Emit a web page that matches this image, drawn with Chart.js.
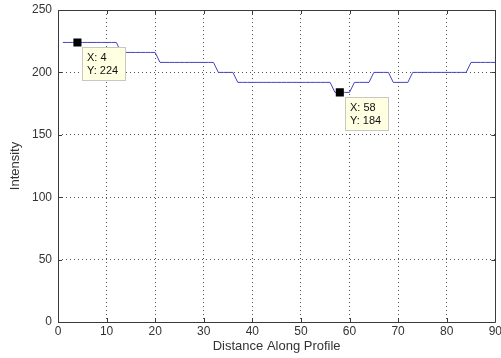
<!doctype html>
<html>
<head>
	<title>Intensity profile</title>
	<script src="https://cdn.jsdelivr.net/npm/chart.js@4/dist/chart.umd.min.js"></script>
	<style>
		html, body { margin: 0; padding: 0; background: #fff; }
		#holder { width: 501px; height: 358px; }
	</style>
</head>
<body>
	<div id="holder">
		<canvas id="chart-area" width="501" height="358"></canvas>
	</div>

	<script>
		// profile samples
		const distance = [
			1, 2, 3, 4, 5, 6, 7, 8, 9, 10, 11, 12, 13, 14, 15, 16, 17, 18, 19, 20,
			21, 22, 23, 24, 25, 26, 27, 28, 29, 30, 31, 32, 33, 34, 35, 36, 37, 38, 39, 40,
			41, 42, 43, 44, 45, 46, 47, 48, 49, 50, 51, 52, 53, 54, 55, 56, 57, 58, 59, 60,
			61, 62, 63, 64, 65, 66, 67, 68, 69, 70, 71, 72, 73, 74, 75, 76, 77, 78, 79, 80,
			81, 82, 83, 84, 85, 86, 87, 88, 89, 90
		];
		const intensity = [
			224, 224, 224, 224, 224, 224, 224, 224, 224, 224, 224, 224, 216, 216, 216, 216, 216, 216, 216, 216,
			208, 208, 208, 208, 208, 208, 208, 208, 208, 208, 208, 208, 200, 200, 200, 200, 192, 192, 192, 192,
			192, 192, 192, 192, 192, 192, 192, 192, 192, 192, 192, 192, 192, 192, 192, 192, 184, 184, 184, 184,
			192, 192, 192, 192, 200, 200, 200, 200, 192, 192, 192, 192, 200, 200, 200, 200, 200, 200, 200, 200,
			200, 200, 200, 200, 208, 208, 208, 208, 208, 208
		];
		// data tips
		const tipX = [4, 58];
		const tipY = [224, 184];
		// axis ticks
		const xTicks = [0, 10, 20, 30, 40, 50, 60, 70, 80, 90];
		const yTicks = [0, 50, 100, 150, 200, 250];

		const FONT = 'Liberation Sans, Arial, sans-serif';

		// axes box, inward tick marks and data tip boxes, matlab style
		const matlabAxes = {
			id: 'matlabAxes',
			afterDatasetsDraw(chart) {
				const ctx = chart.ctx;
				const a = chart.chartArea;
				const xs = chart.scales.x, ys = chart.scales.y;
				ctx.save();
				ctx.strokeStyle = '#3a3a3a';
				ctx.lineWidth = 1;
				ctx.beginPath();
				ctx.rect(Math.round(a.left) + 0.5, Math.round(a.top) + 0.5,
					Math.round(a.right - a.left), Math.round(a.bottom - a.top));
				const tl = 4;
				xTicks.forEach(v => {
					const px = Math.round(xs.getPixelForValue(v)) + 0.5;
					ctx.moveTo(px, a.bottom); ctx.lineTo(px, a.bottom - tl);
					ctx.moveTo(px, a.top); ctx.lineTo(px, a.top + tl);
				});
				yTicks.forEach(v => {
					const py = Math.round(ys.getPixelForValue(v)) + 0.5;
					ctx.moveTo(a.left, py); ctx.lineTo(a.left + tl, py);
					ctx.moveTo(a.right, py); ctx.lineTo(a.right - tl, py);
				});
				ctx.stroke();

				// data tips
				ctx.font = '11px ' + FONT;
				ctx.textBaseline = 'middle';
				tipX.forEach((x, i) => {
					const px = Math.round(xs.getPixelForValue(x));
					const py = Math.round(ys.getPixelForValue(tipY[i]));
					const bx = px + 5, by = py + 5, bw = 44, bh = 34;
					ctx.fillStyle = '#ffffe1';
					ctx.fillRect(bx, by, bw, bh);
					ctx.strokeStyle = '#c8c8c0';
					ctx.strokeRect(bx + 0.5, by + 0.5, bw - 1, bh - 1);
					ctx.fillStyle = '#111';
					ctx.fillText('X: ' + x, bx + 5, by + 11);
					ctx.fillText('Y: ' + tipY[i], bx + 5, by + 24);
				});
				ctx.restore();
			}
		};

		const ctx2d = document.getElementById('chart-area').getContext('2d');
		window.profileChart = new Chart(ctx2d, {
			type: 'line',
			data: {
				datasets: [{
					label: 'Profile',
					data: distance.map((d, i) => ({ x: d, y: intensity[i] })),
					borderColor: '#4343c4',
					borderWidth: 1,
					pointRadius: 0,
					tension: 0,
					order: 2
				}, {
					label: 'Data tips',
					type: 'scatter',
					data: tipX.map((d, i) => ({ x: d, y: tipY[i] })),
					pointStyle: 'rect',
					pointRadius: 5.7,
					backgroundColor: '#000',
					borderColor: '#000',
					borderWidth: 0,
					order: 1
				}]
			},
			options: {
				responsive: false,
				animation: false,
				layout: { padding: { top: 10, right: 4, left: 0, bottom: 0 } },
				plugins: {
					legend: { display: false },
					tooltip: { enabled: false }
				},
				scales: {
					x: {
						type: 'linear',
						min: 0,
						max: 90,
						afterBuildTicks(scale) { scale.ticks = xTicks.map(v => ({ value: v })); },
						afterFit(scale) {
							scale.height = 36;
							scale.paddingLeft = 0;
							scale.paddingRight = 0;
						},
						grid: { color: '#555', drawTicks: false, lineWidth: 1 },
						border: { display: false, dash: [1, 3] },
						ticks: {
							padding: 2,
							maxRotation: 0,
							autoSkip: false,
							color: '#333',
							font: { family: FONT, size: 12 }
						},
						title: {
							display: true,
							text: 'Distance Along Profile',
							color: '#333',
							padding: { top: 0, bottom: 4 },
							font: { family: FONT, size: 13 }
						}
					},
					y: {
						min: 0,
						max: 250,
						afterBuildTicks(scale) { scale.ticks = yTicks.map(v => ({ value: v })); },
						afterFit(scale) {
							scale.width = 58;
							scale.paddingTop = 0;
							scale.paddingBottom = 0;
						},
						grid: { color: '#555', drawTicks: false, lineWidth: 1 },
						border: { display: false, dash: [1, 3] },
						ticks: {
							padding: 6,
							autoSkip: false,
							color: '#333',
							font: { family: FONT, size: 12 }
						},
						title: {
							display: true,
							text: 'Intensity',
							color: '#333',
							padding: { top: 8, bottom: 0 },
							font: { family: FONT, size: 13 }
						}
					}
				}
			},
			plugins: [matlabAxes]
		});
	</script>
</body>
</html>
